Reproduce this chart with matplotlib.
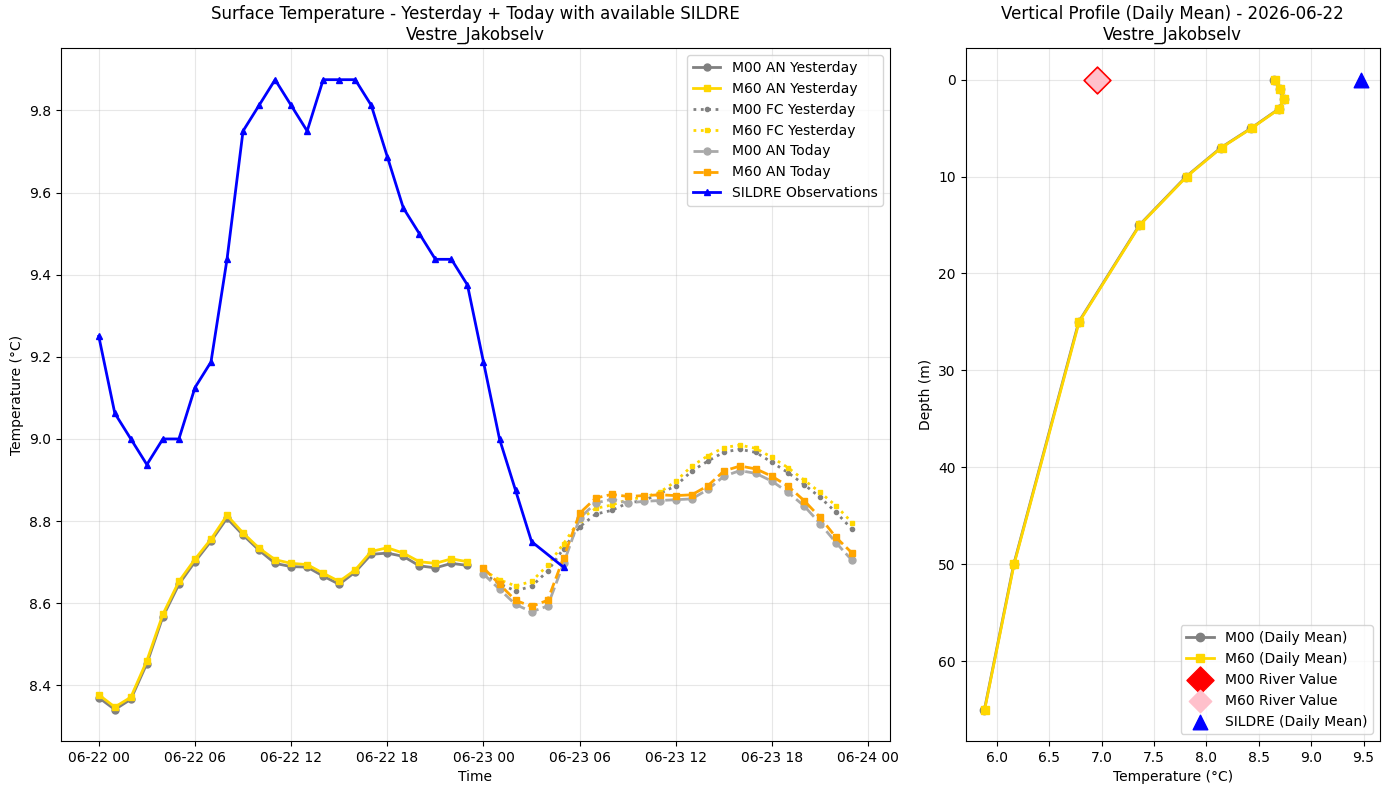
import numpy as np
import pandas as pd
import matplotlib

matplotlib.use("Agg")
import matplotlib.pyplot as plt
import matplotlib.dates as mdates

STATION = "Vestre_Jakobselv"
PROFILE_DATE = "2026-06-22"

# hourly times
yday_times = pd.date_range("2026-06-22 00:00", periods=24, freq="h")
today_times = pd.date_range("2026-06-23 00:00", periods=24, freq="h")
sildre_times = pd.date_range("2026-06-22 00:00", "2026-06-23 05:00", freq="h").drop(
    pd.Timestamp("2026-06-23 04:00"))

sildre_obs = [9.25, 9.0625, 9.0, 8.9375, 9.0, 9.0, 9.125, 9.1875, 9.4375, 9.75,
              9.8125, 9.875, 9.8125, 9.75, 9.875, 9.875, 9.875, 9.8125, 9.6875,
              9.5625, 9.5, 9.4375, 9.4375, 9.375, 9.1875, 9.0, 8.875, 8.75, 8.6875]

m00_an_yday = [8.370, 8.341, 8.366, 8.453, 8.567, 8.646, 8.701, 8.751, 8.807, 8.766,
               8.729, 8.697, 8.689, 8.688, 8.666, 8.646, 8.676, 8.719, 8.722, 8.714,
               8.691, 8.686, 8.697, 8.692]
m60_an_yday = [8.377, 8.347, 8.371, 8.460, 8.573, 8.653, 8.707, 8.756, 8.814, 8.771,
               8.734, 8.706, 8.697, 8.694, 8.673, 8.653, 8.681, 8.726, 8.735, 8.722,
               8.701, 8.697, 8.708, 8.701]

m00_fc_yday = [8.672, 8.647, 8.630, 8.641, 8.678, 8.733, 8.786, 8.817, 8.826, 8.844,
               8.850, 8.867, 8.886, 8.922, 8.946, 8.968, 8.975, 8.967, 8.943, 8.918,
               8.889, 8.858, 8.821, 8.780]
m60_fc_yday = [8.680, 8.657, 8.642, 8.653, 8.692, 8.745, 8.803, 8.831, 8.839, 8.852,
               8.858, 8.870, 8.897, 8.934, 8.959, 8.979, 8.985, 8.977, 8.955, 8.930,
               8.900, 8.870, 8.837, 8.796]

m00_an_today = [8.671, 8.634, 8.597, 8.579, 8.593, 8.697, 8.807, 8.844, 8.853, 8.844,
                8.848, 8.850, 8.852, 8.854, 8.877, 8.909, 8.923, 8.916, 8.897, 8.870,
                8.837, 8.794, 8.747, 8.704]
m60_an_today = [8.686, 8.646, 8.607, 8.592, 8.607, 8.711, 8.819, 8.856, 8.865, 8.860,
                8.862, 8.864, 8.862, 8.864, 8.886, 8.922, 8.934, 8.927, 8.909, 8.885,
                8.850, 8.809, 8.760, 8.722]

# vertical profile (daily mean)
depths = [0, 1, 2, 3, 5, 7, 10, 15, 25, 50, 65]
m00_profile = [8.645, 8.698, 8.740, 8.692, 8.427, 8.140, 7.806, 7.360, 6.780, 6.160, 5.880]
m60_profile = [8.655, 8.703, 8.744, 8.697, 8.432, 8.145, 7.811, 7.364, 6.784, 6.163, 5.882]
m00_river = 6.956
m60_river = 6.956
sildre_mean = 9.477

fig, (ax1, ax2) = plt.subplots(1, 2, figsize=(13.89, 7.9),
                               gridspec_kw={"width_ratios": [2, 1]})

ax1.plot(yday_times, m00_an_yday, "-", color="gray", marker="o", lw=2, ms=5,
         label="M00 AN Yesterday")
ax1.plot(yday_times, m60_an_yday, "-", color="gold", marker="s", lw=2, ms=5,
         label="M60 AN Yesterday")
ax1.plot(today_times, m00_fc_yday, ":", color="gray", marker="o", lw=2, ms=3,
         label="M00 FC Yesterday")
ax1.plot(today_times, m60_fc_yday, ":", color="gold", marker="s", lw=2, ms=3,
         label="M60 FC Yesterday")
ax1.plot(today_times, m00_an_today, "--", color="darkgray", marker="o", lw=2, ms=5,
         label="M00 AN Today")
ax1.plot(today_times, m60_an_today, "--", color="orange", marker="s", lw=2, ms=5,
         label="M60 AN Today")
ax1.plot(sildre_times, sildre_obs, "-", color="blue", marker="^", lw=2, ms=5,
         label="SILDRE Observations")

ax1.xaxis.set_major_locator(mdates.HourLocator(byhour=[0, 6, 12, 18]))
ax1.xaxis.set_major_formatter(mdates.DateFormatter("%m-%d %H"))
ax1.set_xlabel("Time")
ax1.set_ylabel("Temperature (°C)")
ax1.set_title(f"Surface Temperature - Yesterday + Today with available SILDRE\n{STATION}")
ax1.grid(True, alpha=0.3)
ax1.legend(loc="upper right")

ax2.plot(m00_profile, depths, "-", color="gray", marker="o", lw=2, ms=6,
         label="M00 (Daily Mean)")
ax2.plot(m60_profile, depths, "-", color="gold", marker="s", lw=2, ms=6,
         label="M60 (Daily Mean)")
ax2.scatter([m00_river], [0], marker="D", s=190, color="red", zorder=5,
            label="M00 River Value")
ax2.scatter([m60_river], [0], marker="D", s=130, color="pink", zorder=6,
            label="M60 River Value")
ax2.scatter([sildre_mean], [0], marker="^", s=110, color="blue", zorder=6,
            label="SILDRE (Daily Mean)")
ax2.invert_yaxis()
ax2.set_xlabel("Temperature (°C)")
ax2.set_ylabel("Depth (m)")
ax2.set_title(f"Vertical Profile (Daily Mean) - {PROFILE_DATE}\n{STATION}")
ax2.grid(True, alpha=0.3)
ax2.legend(loc="lower right")

fig.subplots_adjust(left=0.044, right=0.9935, top=0.939, bottom=0.062, wspace=0.122)
fig.savefig("out.png", dpi=100)
